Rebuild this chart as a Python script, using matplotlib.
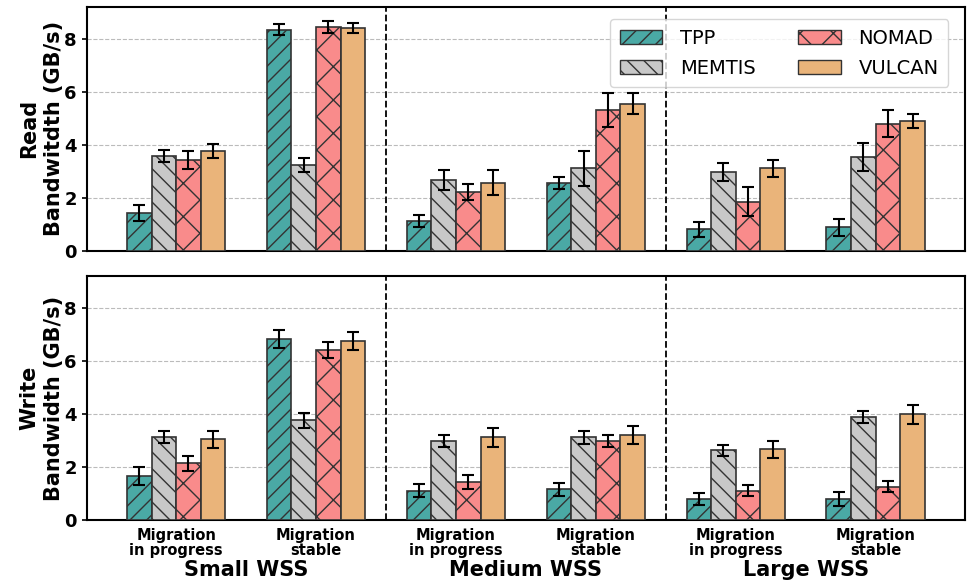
import numpy as np
import matplotlib.pyplot as plt
from matplotlib.patches import Patch

systems = ["TPP", "MEMTIS", "NOMAD", "VULCAN"]
phases = ["Migration\nin progress", "Migration\nstable"] * 3
sizes = ["Small WSS", "Medium WSS", "Large WSS"]

# rows: TPP, MEMTIS, NOMAD, VULCAN; columns: the six phase groups
read_bw = [
    [1.42, 8.35, 1.12, 2.56, 0.82, 0.89],
    [3.59, 3.24, 2.67, 3.11, 2.98, 3.55],
    [3.43, 8.44, 2.22, 5.31, 1.85, 4.80],
    [3.77, 8.40, 2.57, 5.55, 3.12, 4.91],
]
read_err = [
    [0.30, 0.20, 0.23, 0.21, 0.28, 0.33],
    [0.23, 0.25, 0.37, 0.65, 0.33, 0.53],
    [0.33, 0.22, 0.32, 0.63, 0.55, 0.50],
    [0.26, 0.19, 0.47, 0.40, 0.32, 0.27],
]
write_bw = [
    [1.65, 6.83, 1.11, 1.15, 0.78, 0.79],
    [3.12, 3.75, 2.98, 3.12, 2.63, 3.88],
    [2.13, 6.39, 1.42, 2.98, 1.10, 1.26],
    [3.05, 6.75, 3.11, 3.21, 2.67, 3.98],
]
write_err = [
    [0.34, 0.33, 0.26, 0.23, 0.23, 0.26],
    [0.23, 0.30, 0.24, 0.24, 0.20, 0.24],
    [0.30, 0.30, 0.27, 0.24, 0.21, 0.22],
    [0.32, 0.34, 0.34, 0.34, 0.32, 0.35],
]

colors = ["#4aa9a5", "#c8c8c8", "#f98b8b", "#eab47a"]
hatches = ["//", "\\\\", "x", ""]

plt.rcParams["hatch.linewidth"] = 1.0
fig = plt.figure(figsize=(9.73, 5.82), dpi=100)
ax_r = fig.add_axes([0.089, 0.569, 0.903, 0.419])
ax_w = fig.add_axes([0.089, 0.1065, 0.903, 0.4195])

x = np.arange(len(phases))
width = 0.176


def draw(ax, vals, errs, ylabel):
    for i, name in enumerate(systems):
        off = (i - 1.5) * width
        ax.bar(x + off, vals[i], width, color=colors[i], hatch=hatches[i],
            edgecolor="#333333", linewidth=1.2, label=name, zorder=3)
        ax.errorbar(x + off, vals[i], yerr=errs[i], fmt="none",
            ecolor="black", elinewidth=1.5, capsize=4, capthick=1.5,
            zorder=4)
    for xv in [1.5, 3.5]:
        ax.axvline(xv, color="black", linestyle="--", linewidth=1.3,
            zorder=2)
    ax.set_xlim(-0.64, 5.64)
    ax.set_ylim(0, 9.2)
    ax.set_yticks([0, 2, 4, 6, 8])
    ax.grid(axis="y", linestyle="--", color="#bbbbbb", linewidth=0.8,
        zorder=0)
    ax.set_ylabel(ylabel, fontsize=15, fontweight="bold", labelpad=0,
        linespacing=1.3)
    ax.tick_params(axis="y", labelsize=13, width=1.2)
    for t in ax.get_yticklabels():
        t.set_fontweight("bold")
    for s in ax.spines.values():
        s.set_linewidth(1.5)


draw(ax_r, read_bw, read_err, "Read\nBandwitdth (GB/s)")
draw(ax_w, write_bw, write_err, "Write\nBandwidth (GB/s)")

ax_r.set_xticks(x)
ax_r.tick_params(axis="x", labelbottom=False, length=0)
ax_w.set_xticks(x)
ax_w.set_xticklabels(phases, fontsize=10.5, fontweight="bold",
    linespacing=1.0)
ax_w.tick_params(axis="x", length=0, pad=6)

for k, name in enumerate(sizes):
    ax_w.text(2 * k + 0.5, -1.9, name, ha="center", va="center",
        fontsize=15, fontweight="bold")

hdl = [Patch(facecolor=colors[i], hatch=hatches[i], edgecolor="#333333",
    label=systems[i]) for i in range(4)]
leg = ax_r.legend(handles=hdl, loc="upper right", ncol=2, fontsize=14,
    frameon=True, handlelength=2.2, handleheight=0.7, handletextpad=0.9,
    columnspacing=2.2, labelspacing=0.55,
    bbox_to_anchor=(0.992, 0.99), borderpad=0.5)
leg.get_frame().set_edgecolor("#cccccc")

fig.savefig("out.png", dpi=100)
